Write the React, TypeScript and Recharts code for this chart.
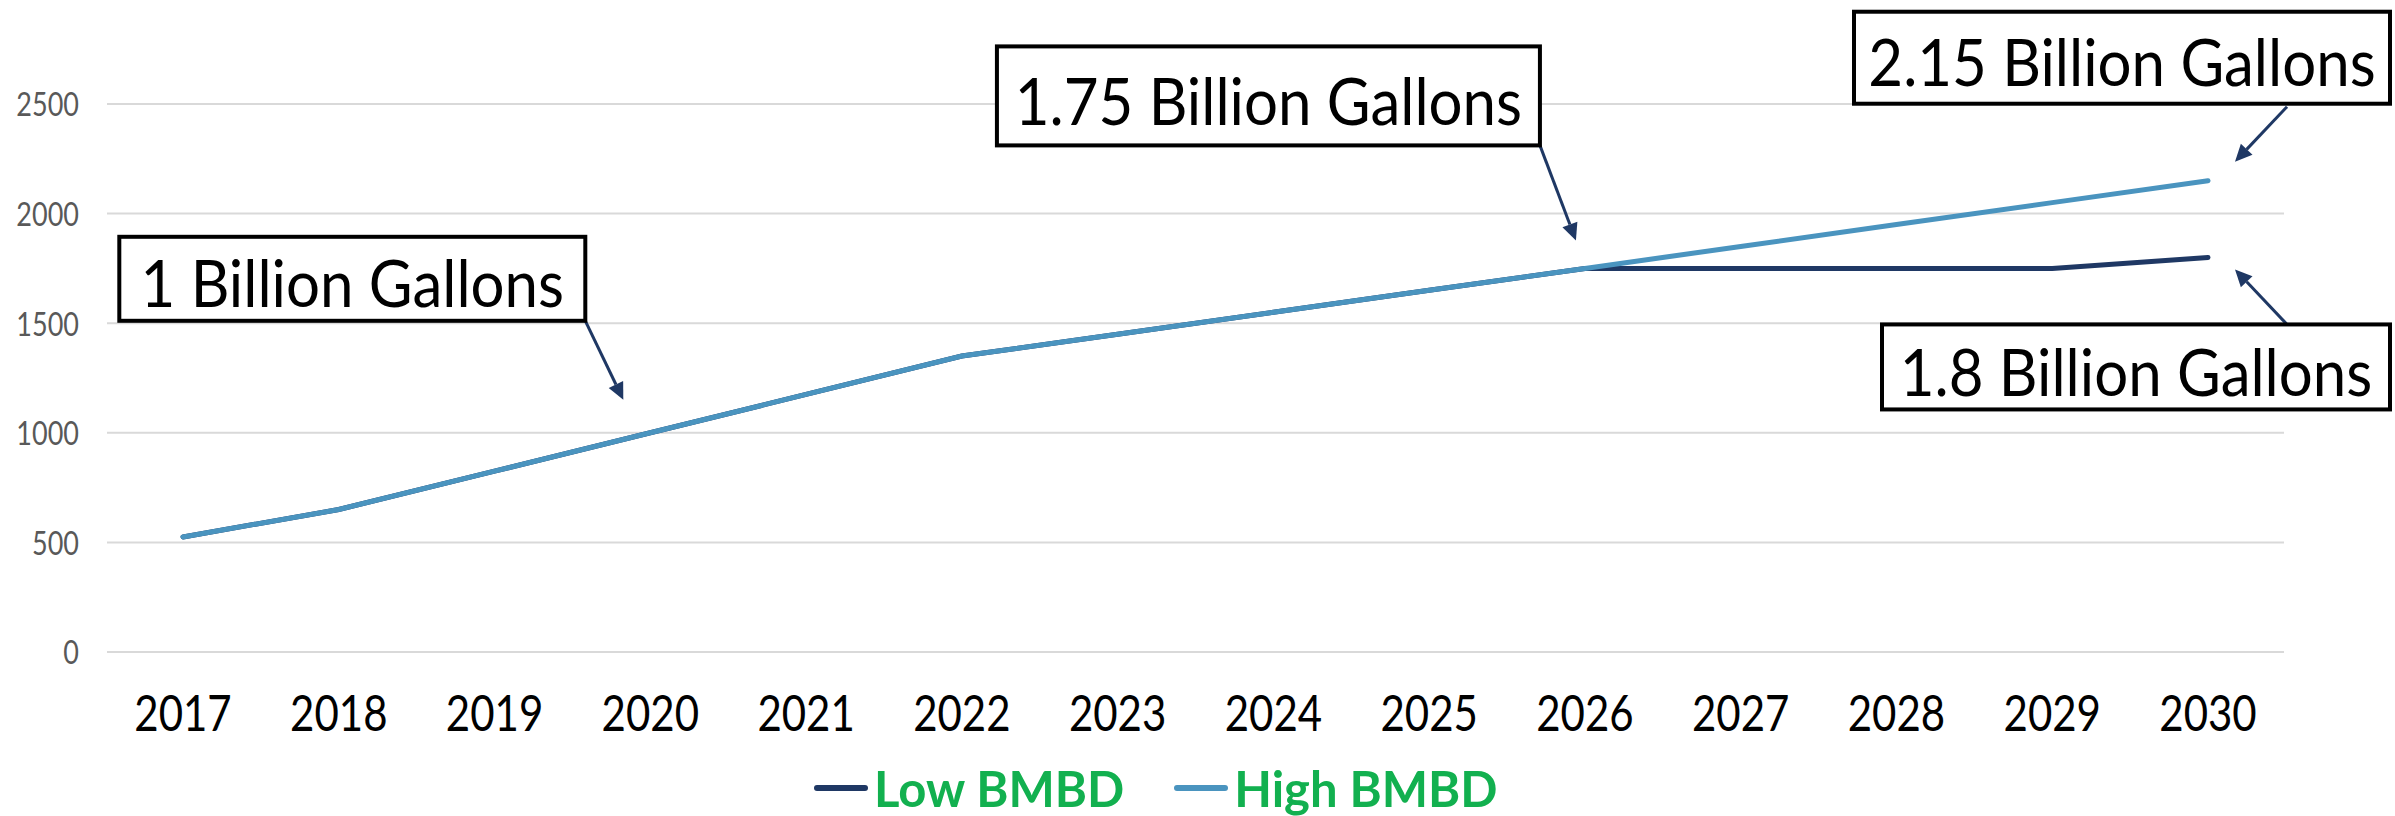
import React from "react";
import {
  LineChart,
  Line,
  XAxis,
  YAxis,
  CartesianGrid,
  Legend,
  ReferenceDot,
} from "recharts";

const years = ["2017", "2018", "2019", "2020", "2021", "2022", "2023", "2024", "2025", "2026", "2027", "2028", "2029", "2030"];
const lowBmbd = [525, 650, 825, 1000, 1175, 1350, 1450, 1550, 1650, 1750, 1750, 1750, 1750, 1800];
const highBmbd = [525, 650, 825, 1000, 1175, 1350, 1450, 1550, 1650, 1750, 1850, 1950, 2050, 2150];
const yTicks = [0, 500, 1000, 1500, 2000, 2500];

const calloutYears = ["2020", "2026", "2030", "2030"];
const calloutValues = [1000, 1750, 2150, 1800];
const calloutTexts = ["1 Billion Gallons", "1.75 Billion Gallons", "2.15 Billion Gallons", "1.8 Billion Gallons"];

const LOW = "#1F3864";
const HIGH = "#4A94BF";
const GREEN = "#12B04F";

// box + arrow placement relative to the pointed-at value
const calloutLayout = [
  { bx: -531, by: -196, bw: 466, bh: 84, sx: -65, sy: -112, tx: -27, ty: -33 },
  { bx: -588, by: -222, bw: 543, bh: 99, sx: -45, sy: -123, tx: -9, ty: -28 },
  { bx: -354, by: -169, bw: 536, bh: 92, sx: 79, sy: -74, tx: 27, ty: -19 },
  { bx: -326, by: 67, bw: 508, bh: 85, sx: 79, sy: 67, tx: 27, ty: 12 },
];

const data = years.map((y, i) => ({ year: y, low: lowBmbd[i], high: highBmbd[i] }));

function Callout(props: any) {
  const { cx, cy, idx } = props;
  if (cx == null || cy == null) return null;
  const l = calloutLayout[idx];
  const x0 = cx + l.sx;
  const y0 = cy + l.sy;
  const x1 = cx + l.tx;
  const y1 = cy + l.ty;
  const dx = x1 - x0;
  const dy = y1 - y0;
  const len = Math.sqrt(dx * dx + dy * dy);
  const ux = dx / len;
  const uy = dy / len;
  const head = 17;
  const half = 8;
  const bxp = x1 - ux * head;
  const byp = y1 - uy * head;
  const pts = `${x1},${y1} ${bxp - uy * half},${byp + ux * half} ${bxp + uy * half},${byp - ux * half}`;
  const tcx = cx + l.bx + l.bw / 2;
  const tcy = cy + l.by + l.bh / 2 + 3;
  return (
    <g>
      <line x1={x0} y1={y0} x2={bxp} y2={byp} stroke={LOW} strokeWidth={3} />
      <polygon points={pts} fill={LOW} />
      <rect
        x={cx + l.bx}
        y={cy + l.by}
        width={l.bw}
        height={l.bh}
        fill="#ffffff"
        stroke="#000000"
        strokeWidth={4}
      />
      <g transform={`translate(${tcx},${tcy}) scale(1,1.1)`}>
        <text
          x={0}
          y={0}
          textAnchor="middle"
          dominantBaseline="central"
          fontFamily="Lato, sans-serif"
          fontSize={60}
          fill="#000000"
        >
          {calloutTexts[idx]}
        </text>
      </g>
    </g>
  );
}

function XTick(props: any) {
  const { x, y, payload } = props;
  return (
    <g transform={`translate(${x},${y}) scale(1,1.18)`}>
      <text x={0} y={0} textAnchor="middle" dominantBaseline="central" fontFamily="Lato, sans-serif" fontSize={42} fill="#000000">
        {payload.value}
      </text>
    </g>
  );
}

function YTick(props: any) {
  const { x, y, payload } = props;
  return (
    <g transform={`translate(${x},${y}) scale(1,1.2)`}>
      <text x={0} y={0} textAnchor="end" dominantBaseline="central" fontFamily="Lato, sans-serif" fontSize={27} fill="#595959">
        {payload.value}
      </text>
    </g>
  );
}

function LegendContent() {
  const items = [
    { name: "Low BMBD", color: LOW },
    { name: "High BMBD", color: HIGH },
  ];
  return (
    <div style={{ display: "flex", alignItems: "center", height: 56, paddingLeft: 814 }}>
      {items.map((it, i) => (
        <div key={it.name} style={{ display: "flex", alignItems: "center", marginRight: i === 0 ? 50 : 0 }}>
          <div style={{ width: 54, height: 6, borderRadius: 3, background: it.color, marginRight: 6 }} />
          <span style={{ fontFamily: "Lato, sans-serif", fontWeight: 700, fontSize: 49, color: GREEN, lineHeight: "54px" }}>
            {it.name}
          </span>
        </div>
      ))}
    </div>
  );
}

export default function App() {
  return (
    <div style={{ width: 2395, height: 816, background: "#ffffff" }}>
      <style>{`body{margin:0;background:#fff;}`}</style>
      <LineChart width={2395} height={816} data={data} margin={{ top: 104, right: 111, bottom: 0, left: 0 }}>
        <CartesianGrid vertical={false} stroke="#D9D9D9" strokeWidth={2} />
        <XAxis
          dataKey="year"
          axisLine={false}
          tickLine={false}
          tickSize={0}
          tickMargin={60}
          height={108}
          padding={{ left: 76, right: 76 }}
          tick={<XTick />}
          interval={0}
        />
        <YAxis
          domain={[0, 2500]}
          ticks={yTicks}
          axisLine={false}
          tickLine={false}
          tickSize={0}
          tickMargin={28}
          width={107}
          tick={<YTick />}
        />
        <Legend
          verticalAlign="bottom"
          height={56}
          content={<LegendContent />}
          wrapperStyle={{ left: 0, width: 2395 }}
        />
        <Line
          dataKey="low"
          name="Low BMBD"
          stroke={LOW}
          strokeWidth={5}
          dot={false}
          strokeLinecap="round"
          isAnimationActive={false}
        />
        <Line
          dataKey="high"
          name="High BMBD"
          stroke={HIGH}
          strokeWidth={5}
          dot={false}
          strokeLinecap="round"
          isAnimationActive={false}
        />
        {calloutYears.map((yr, i) => (
          <ReferenceDot
            key={i}
            x={yr}
            y={calloutValues[i]}
            r={0}
            shape={(p: any) => <Callout {...p} idx={i} />}
          />
        ))}
      </LineChart>
    </div>
  );
}
